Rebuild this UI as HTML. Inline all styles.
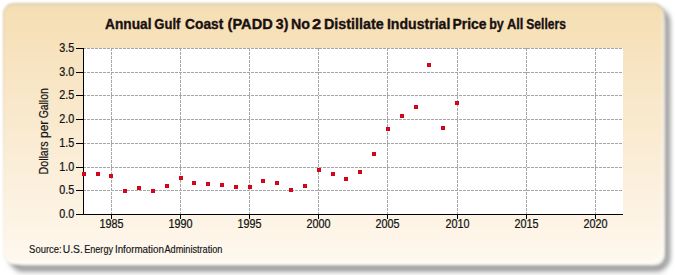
<!DOCTYPE html>
<html><head><meta charset="utf-8"><style>
html,body{margin:0;padding:0;width:675px;height:275px;overflow:hidden;background:#fff}
.card{position:absolute;left:3px;top:3px;width:661px;height:261px;border-radius:11px;box-sizing:border-box;border:1px solid transparent;background:linear-gradient(to bottom,#f5deb3 0%,#fff8ef 100%) padding-box,linear-gradient(to bottom,#d9c6a0 0%,#f8f5ee 100%) border-box;box-shadow:1px 1px 0 rgba(254,250,244,0.5),inset -1px -2px 1px rgba(255,255,255,0.75),inset 0 2px 2px -1px rgba(205,212,205,0.55);filter:blur(0.8px)}
svg{position:absolute;left:0;top:0}
.g{stroke:#a6a6a6;stroke-width:1;stroke-dasharray:3 1;fill:none}
.a{stroke:#000;stroke-width:1;fill:none}
.l{font-family:"Liberation Sans", sans-serif;font-size:12px;fill:#141414;stroke:#141414;stroke-width:0.25px}
.t{font-family:"Liberation Sans", sans-serif;font-size:14px;font-weight:bold;fill:#1a1010;stroke:#1a1010;stroke-width:0.35px}
.yt{font-family:"Liberation Sans", sans-serif;font-size:12px;fill:#141414;stroke:#141414;stroke-width:0.2px}
.s{font-family:"Liberation Sans", sans-serif;font-size:9.9px;fill:#141414;stroke:#141414;stroke-width:0.15px}
</style></head><body>
<svg width="675" height="275"><defs><filter id="sb" filterUnits="userSpaceOnUse" x="0" y="0" width="675" height="275"><feGaussianBlur stdDeviation="2.8 2.9"/></filter></defs><rect x="12" y="11" width="655" height="257" rx="11" fill="none" stroke="rgba(0,0,0,0.40)" stroke-width="6.5" filter="url(#sb)"/><rect x="16" y="266" width="648" height="10" fill="rgba(0,0,0,0.035)" filter="url(#sb)"/></svg>
<div class="card"></div>
<svg width="675" height="275">
<rect x="83" y="48" width="540" height="167" fill="#fff"/>
<line x1="83" y1="48.5" x2="623" y2="48.5" class="g"/>
<line x1="83" y1="72.5" x2="623" y2="72.5" class="g"/>
<line x1="83" y1="95.5" x2="623" y2="95.5" class="g"/>
<line x1="83" y1="119.5" x2="623" y2="119.5" class="g"/>
<line x1="83" y1="143.5" x2="623" y2="143.5" class="g"/>
<line x1="83" y1="167.5" x2="623" y2="167.5" class="g"/>
<line x1="83" y1="190.5" x2="623" y2="190.5" class="g"/>
<line x1="111.5" y1="48" x2="111.5" y2="214" class="g"/>
<line x1="180.5" y1="48" x2="180.5" y2="214" class="g"/>
<line x1="249.5" y1="48" x2="249.5" y2="214" class="g"/>
<line x1="318.5" y1="48" x2="318.5" y2="214" class="g"/>
<line x1="387.5" y1="48" x2="387.5" y2="214" class="g"/>
<line x1="457.5" y1="48" x2="457.5" y2="214" class="g"/>
<line x1="526.5" y1="48" x2="526.5" y2="214" class="g"/>
<line x1="595.5" y1="48" x2="595.5" y2="214" class="g"/>
<line x1="83.5" y1="48" x2="83.5" y2="215" class="a"/>
<line x1="83" y1="214.5" x2="623" y2="214.5" class="a"/>
<line x1="76" y1="48.5" x2="83" y2="48.5" class="a"/>
<line x1="76" y1="72.5" x2="83" y2="72.5" class="a"/>
<line x1="76" y1="95.5" x2="83" y2="95.5" class="a"/>
<line x1="76" y1="119.5" x2="83" y2="119.5" class="a"/>
<line x1="76" y1="143.5" x2="83" y2="143.5" class="a"/>
<line x1="76" y1="167.5" x2="83" y2="167.5" class="a"/>
<line x1="76" y1="190.5" x2="83" y2="190.5" class="a"/>
<line x1="76" y1="214.5" x2="83" y2="214.5" class="a"/>
<line x1="111.5" y1="215" x2="111.5" y2="219" class="a"/>
<line x1="180.5" y1="215" x2="180.5" y2="219" class="a"/>
<line x1="249.5" y1="215" x2="249.5" y2="219" class="a"/>
<line x1="318.5" y1="215" x2="318.5" y2="219" class="a"/>
<line x1="387.5" y1="215" x2="387.5" y2="219" class="a"/>
<line x1="457.5" y1="215" x2="457.5" y2="219" class="a"/>
<line x1="526.5" y1="215" x2="526.5" y2="219" class="a"/>
<line x1="595.5" y1="215" x2="595.5" y2="219" class="a"/>
<text transform="translate(74.2,52.0) scale(0.9,1)" text-anchor="end" class="l">3.5</text>
<text transform="translate(74.2,76.0) scale(0.9,1)" text-anchor="end" class="l">3.0</text>
<text transform="translate(74.2,99.0) scale(0.9,1)" text-anchor="end" class="l">2.5</text>
<text transform="translate(74.2,123.0) scale(0.9,1)" text-anchor="end" class="l">2.0</text>
<text transform="translate(74.2,147.0) scale(0.9,1)" text-anchor="end" class="l">1.5</text>
<text transform="translate(74.2,171.0) scale(0.9,1)" text-anchor="end" class="l">1.0</text>
<text transform="translate(74.2,194.0) scale(0.9,1)" text-anchor="end" class="l">0.5</text>
<text transform="translate(74.2,218.0) scale(0.9,1)" text-anchor="end" class="l">0.0</text>
<text transform="translate(111.5,228) scale(0.9,1)" text-anchor="middle" class="l">1985</text>
<text transform="translate(180.5,228) scale(0.9,1)" text-anchor="middle" class="l">1990</text>
<text transform="translate(249.5,228) scale(0.9,1)" text-anchor="middle" class="l">1995</text>
<text transform="translate(318.5,228) scale(0.9,1)" text-anchor="middle" class="l">2000</text>
<text transform="translate(387.5,228) scale(0.9,1)" text-anchor="middle" class="l">2005</text>
<text transform="translate(457.5,228) scale(0.9,1)" text-anchor="middle" class="l">2010</text>
<text transform="translate(526.5,228) scale(0.9,1)" text-anchor="middle" class="l">2015</text>
<text transform="translate(595.5,228) scale(0.9,1)" text-anchor="middle" class="l">2020</text>
<rect x="82" y="172" width="4" height="4" fill="#c8081c"/><rect x="83" y="173" width="2" height="2" fill="#e8001a"/>
<rect x="96" y="172" width="4" height="4" fill="#c8081c"/><rect x="97" y="173" width="2" height="2" fill="#e8001a"/>
<rect x="109" y="174" width="4" height="4" fill="#c8081c"/><rect x="110" y="175" width="2" height="2" fill="#e8001a"/>
<rect x="123" y="189" width="4" height="4" fill="#c8081c"/><rect x="124" y="190" width="2" height="2" fill="#e8001a"/>
<rect x="137" y="186" width="4" height="4" fill="#c8081c"/><rect x="138" y="187" width="2" height="2" fill="#e8001a"/>
<rect x="151" y="189" width="4" height="4" fill="#c8081c"/><rect x="152" y="190" width="2" height="2" fill="#e8001a"/>
<rect x="165" y="184" width="4" height="4" fill="#c8081c"/><rect x="166" y="185" width="2" height="2" fill="#e8001a"/>
<rect x="179" y="176" width="4" height="4" fill="#c8081c"/><rect x="180" y="177" width="2" height="2" fill="#e8001a"/>
<rect x="192" y="181" width="4" height="4" fill="#c8081c"/><rect x="193" y="182" width="2" height="2" fill="#e8001a"/>
<rect x="206" y="182" width="4" height="4" fill="#c8081c"/><rect x="207" y="183" width="2" height="2" fill="#e8001a"/>
<rect x="220" y="183" width="4" height="4" fill="#c8081c"/><rect x="221" y="184" width="2" height="2" fill="#e8001a"/>
<rect x="234" y="185" width="4" height="4" fill="#c8081c"/><rect x="235" y="186" width="2" height="2" fill="#e8001a"/>
<rect x="248" y="185" width="4" height="4" fill="#c8081c"/><rect x="249" y="186" width="2" height="2" fill="#e8001a"/>
<rect x="261" y="179" width="4" height="4" fill="#c8081c"/><rect x="262" y="180" width="2" height="2" fill="#e8001a"/>
<rect x="275" y="181" width="4" height="4" fill="#c8081c"/><rect x="276" y="182" width="2" height="2" fill="#e8001a"/>
<rect x="289" y="188" width="4" height="4" fill="#c8081c"/><rect x="290" y="189" width="2" height="2" fill="#e8001a"/>
<rect x="303" y="184" width="4" height="4" fill="#c8081c"/><rect x="304" y="185" width="2" height="2" fill="#e8001a"/>
<rect x="317" y="168" width="4" height="4" fill="#c8081c"/><rect x="318" y="169" width="2" height="2" fill="#e8001a"/>
<rect x="331" y="172" width="4" height="4" fill="#c8081c"/><rect x="332" y="173" width="2" height="2" fill="#e8001a"/>
<rect x="344" y="177" width="4" height="4" fill="#c8081c"/><rect x="345" y="178" width="2" height="2" fill="#e8001a"/>
<rect x="358" y="170" width="4" height="4" fill="#c8081c"/><rect x="359" y="171" width="2" height="2" fill="#e8001a"/>
<rect x="372" y="152" width="4" height="4" fill="#c8081c"/><rect x="373" y="153" width="2" height="2" fill="#e8001a"/>
<rect x="386" y="127" width="4" height="4" fill="#c8081c"/><rect x="387" y="128" width="2" height="2" fill="#e8001a"/>
<rect x="400" y="114" width="4" height="4" fill="#c8081c"/><rect x="401" y="115" width="2" height="2" fill="#e8001a"/>
<rect x="414" y="105" width="4" height="4" fill="#c8081c"/><rect x="415" y="106" width="2" height="2" fill="#e8001a"/>
<rect x="427" y="63" width="4" height="4" fill="#c8081c"/><rect x="428" y="64" width="2" height="2" fill="#e8001a"/>
<rect x="441" y="126" width="4" height="4" fill="#c8081c"/><rect x="442" y="127" width="2" height="2" fill="#e8001a"/>
<rect x="455" y="101" width="4" height="4" fill="#c8081c"/><rect x="456" y="102" width="2" height="2" fill="#e8001a"/>
<text transform="translate(105.11,29) scale(0.978,1)" class="t">Annual</text>
<text transform="translate(154.33,29) scale(0.933,1)" class="t">Gulf</text>
<text transform="translate(185.11,29) scale(0.984,1)" class="t">Coast</text>
<text transform="translate(227.58,29) scale(1.043,1)" class="t">(PADD</text>
<text transform="translate(275.80,29) scale(1.009,1)" class="t">3)</text>
<text transform="translate(291.09,29) scale(1.018,1)" class="t">No</text>
<text transform="translate(312.01,29) scale(1.183,1)" class="t">2</text>
<text transform="translate(323.89,29) scale(1.028,1)" class="t">Distillate</text>
<text transform="translate(386.90,29) scale(1.008,1)" class="t">Industrial</text>
<text transform="translate(452.50,29) scale(0.997,1)" class="t">Price</text>
<text transform="translate(489.15,29) scale(0.893,1)" class="t">by</text>
<text transform="translate(506.94,29) scale(0.925,1)" class="t">All</text>
<text transform="translate(526.27,29) scale(0.864,1)" class="t">Sellers</text>
<text transform="translate(48,174.49) rotate(-90) scale(0.889,1)" class="yt">Dollars</text>
<text transform="translate(48,138.00) rotate(-90) scale(1.000,1)" class="yt">per</text>
<text transform="translate(48,118.37) rotate(-90) scale(0.870,1)" class="yt">Gallon</text>
<text transform="translate(29.12,253) scale(0.956,1.02)" class="s">Source:</text>
<text transform="translate(62.78,253) scale(1.041,1.02)" class="s">U.S.</text>
<text transform="translate(84.14,253) scale(0.923,1.02)" class="s">Energy</text>
<text transform="translate(114.91,253) scale(0.988,1.02)" class="s">Information</text>
<text transform="translate(164.44,253) scale(0.927,1.02)" class="s">Administration</text>
</svg>
</body></html>
